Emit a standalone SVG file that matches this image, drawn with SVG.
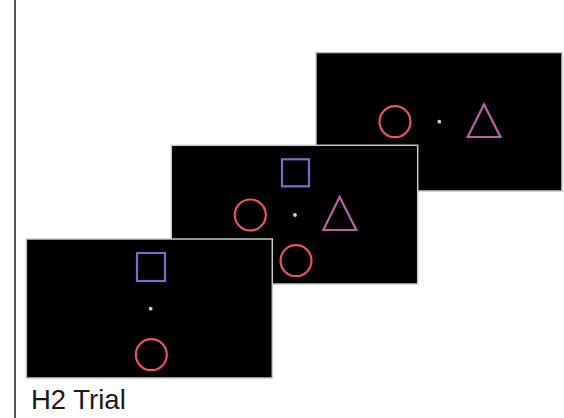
<svg xmlns="http://www.w3.org/2000/svg" width="564" height="418" viewBox="0 0 564 418">
<style>
.scr{fill:#000;stroke:#c8c8c8;stroke-width:1.5}
.c{fill:none;stroke:#e8565c;stroke-width:2.2}
.s{fill:none;stroke:#7a6ec4;stroke-width:2.2}
.t{fill:none;stroke:#b3659e;stroke-width:2.2}
.d{fill:#cfcfcf}
.lbl{font-family:"Liberation Sans",Arial,sans-serif;font-size:27.5px;fill:#1a1a1a}
</style>
<rect width="564" height="418" fill="#fff"/>
<line x1="15" y1="0" x2="15" y2="418" stroke="#2a2a2a" stroke-width="1.6"/>
<g id="screen3">
<rect class="scr" x="316" y="52.5" width="246" height="138.5"/>
<circle class="c" cx="395" cy="121.7" r="15.5"/>
<circle class="d" cx="439.3" cy="121.7" r="1.9"/>
<polygon class="t" points="484,104.5 467.7,137 500.5,137"/>
</g>
<g id="screen2">
<rect class="scr" x="171.3" y="145.3" width="246.4" height="138.7"/>
<rect class="s" x="282" y="159.3" width="27" height="27"/>
<circle class="c" cx="250.3" cy="215" r="15.5"/>
<circle class="d" cx="295" cy="215" r="1.9"/>
<polygon class="t" points="339.7,197 323.3,230 356.3,230"/>
<circle class="c" cx="296" cy="260.7" r="15.5"/>
</g>
<g id="screen1">
<rect class="scr" x="26.3" y="239" width="246" height="139"/>
<rect class="s" x="137" y="253" width="28" height="28"/>
<circle class="d" cx="150.7" cy="308.7" r="1.9"/>
<circle class="c" cx="151.3" cy="354.7" r="15.5"/>
</g>
<text class="lbl" x="31" y="409">H2 Trial</text>
</svg>
